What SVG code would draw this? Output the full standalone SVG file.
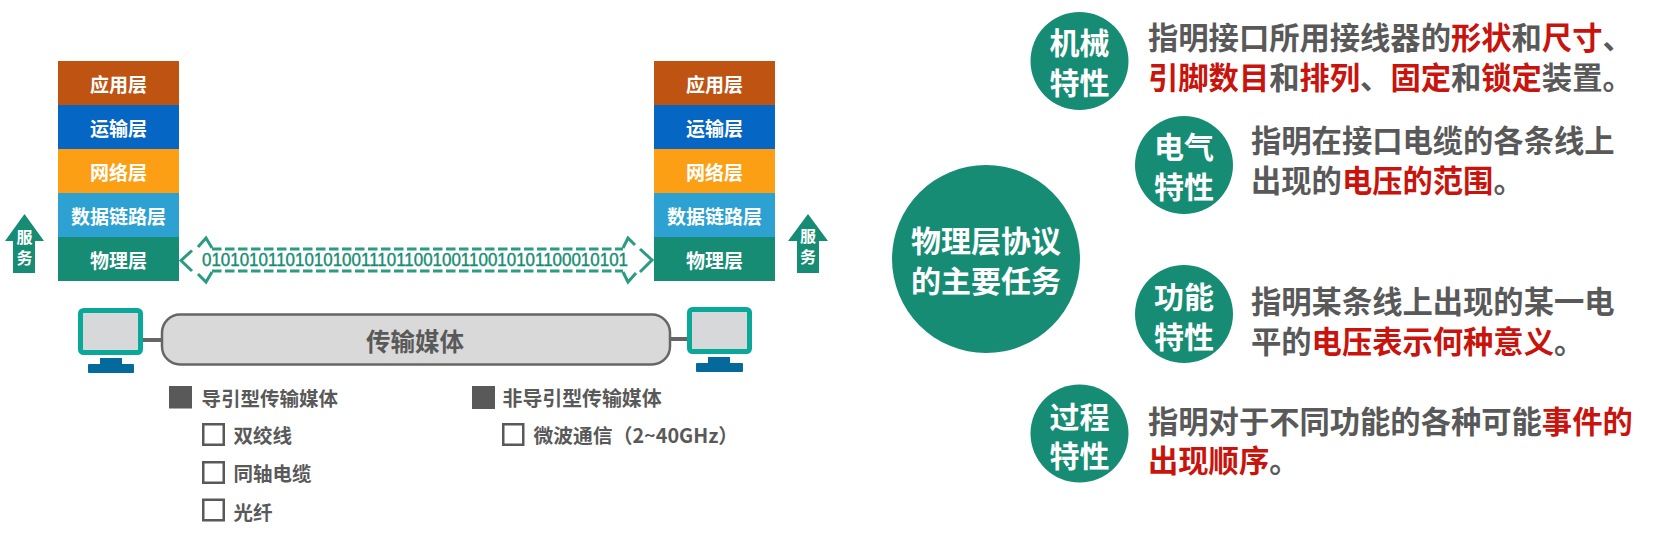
<svg xmlns="http://www.w3.org/2000/svg" width="1653" height="548" viewBox="0 0 1653 548">
<style>
text{font-family:"Noto Sans CJK SC","Liberation Sans",sans-serif}
.ly{font-size:19px;font-weight:700;fill:#fff;text-anchor:middle}
.sv{font-size:16px;font-weight:700;fill:#fff;text-anchor:middle}
.gr{fill:#178c74}
.cn{font-size:30px;font-weight:700;fill:#fff;text-anchor:middle}
.tx{font-size:30.300px;font-weight:700;fill:#595959}
.rd{fill:#c8140c}
.li{font-size:19.500px;font-weight:700;fill:#595959}
.box{fill:#fff;stroke:#595959;stroke-width:2.500}
.sq{fill:#595959}
.scr{fill:#d6d8da;stroke:#0aa899;stroke-width:5}
.std{fill:#04699b}
.wire{stroke:#666;stroke-width:4;fill:none}
.dash{fill:none;stroke:#2a9c82;stroke-width:3;stroke-dasharray:9.500 3.500}
.head{fill:none;stroke:#2a9c82;stroke-width:3}
</style>
<rect width="1653" height="548" fill="#fff"/>
<g id="stack-left">
<rect x="58" y="61" width="121" height="44" fill="#bf5312"/><text class="ly" x="118.500" y="91.500">应用层</text>
<rect x="58" y="105" width="121" height="44" fill="#0566c4"/><text class="ly" x="118.500" y="135.500">运输层</text>
<rect x="58" y="149" width="121" height="44" fill="#fd9f14"/><text class="ly" x="118.500" y="179.500">网络层</text>
<rect x="58" y="193" width="121" height="44" fill="#2ca1d2"/><text class="ly" x="118.500" y="223.500">数据链路层</text>
<rect x="58" y="237" width="121" height="44" fill="#178c74"/><text class="ly" x="118.500" y="267.500">物理层</text>
</g>
<g id="stack-right">
<rect x="654" y="61" width="121" height="44" fill="#bf5312"/><text class="ly" x="714.500" y="91.500">应用层</text>
<rect x="654" y="105" width="121" height="44" fill="#0566c4"/><text class="ly" x="714.500" y="135.500">运输层</text>
<rect x="654" y="149" width="121" height="44" fill="#fd9f14"/><text class="ly" x="714.500" y="179.500">网络层</text>
<rect x="654" y="193" width="121" height="44" fill="#2ca1d2"/><text class="ly" x="714.500" y="223.500">数据链路层</text>
<rect x="654" y="237" width="121" height="44" fill="#178c74"/><text class="ly" x="714.500" y="267.500">物理层</text>
</g>
<g id="service-left">
<path class="gr" d="M24.500 214L44 241H35V273H13V241H5Z"/>
<text class="sv" x="24.500" y="243">服</text><text class="sv" x="24.500" y="264">务</text>
</g>
<g id="service-right">
<path class="gr" d="M808 214L828 241H819V273H797V241H788Z"/>
<text class="sv" x="808" y="242">服</text><text class="sv" x="808" y="263">务</text>
</g>
<g id="connectors">
<path class="wire" d="M143 340H161M671 339H687"/>
<path class="dash" d="M212 249H623M212 271H623"/>
<path class="head" d="M192 250.500L181 260.500L192 271M198 247L206 238L212 248M198 274L206 282L212 272"/>
<path class="head" d="M640 249L652 260L640 272M623 248L628 238L635 245M623 272L628 282L636 273"/>
</g>
<text id="bits" x="202" y="266" font-size="17.500" fill="#178c74" stroke="#178c74" stroke-width=".4" style="font-family:'Liberation Sans',sans-serif" textLength="426" lengthAdjust="spacingAndGlyphs">0101010110101010011101100100110010101100010101</text>
<g id="pc-left">
<rect class="scr" x="80.500" y="310.500" width="60" height="42" rx="3"/>
<rect class="std" x="100" y="358" width="22" height="7"/><rect class="std" x="88" y="364" width="46" height="9" rx="1"/>
</g>
<g id="pc-right">
<rect class="scr" x="689.500" y="309.500" width="60" height="42" rx="3"/>
<rect class="std" x="708" y="357" width="22" height="7"/><rect class="std" x="696" y="363" width="47" height="9" rx="1"/>
</g>
<g id="medium">
<rect x="162" y="314.500" width="508" height="50" rx="18" fill="#d9d9d9" stroke="#666" stroke-width="2.500"/>
<text x="415" y="351" font-size="24.500" font-weight="700" fill="#595959" text-anchor="middle">传输媒体</text>
</g>
<g id="list-guided">
<rect class="sq" x="169" y="386" width="23" height="22.500"/><text class="li" x="201.500" y="406">导引型传输媒体</text>
<rect class="box" x="203.250" y="424.250" width="20.500" height="20.500"/><text class="li" x="233.500" y="443">双绞线</text>
<rect class="box" x="203.250" y="462.250" width="20.500" height="20.500"/><text class="li" x="233.500" y="481">同轴电缆</text>
<rect class="box" x="203.250" y="499.750" width="20.500" height="20.500"/><text class="li" x="233.500" y="519.500">光纤</text>
</g>
<g id="list-unguided">
<rect class="sq" x="472" y="386" width="23" height="23"/><text class="li" x="502.500" y="406" style="font-size:19.900px">非导引型传输媒体</text>
<rect class="box" x="503.250" y="424.250" width="20" height="20.500"/><text class="li" x="533.500" y="443" style="font-size:19.800px">微波通信（2~40GHz）</text>
</g>
<g id="main-task">
<circle class="gr" cx="986" cy="259" r="94"/>
<text class="cn" x="986" y="252">物理层协议</text><text class="cn" x="986" y="292">的主要任务</text>
</g>
<g id="mechanical">
<circle class="gr" cx="1079.500" cy="61" r="49"/>
<text class="cn" x="1079.500" y="54">机械</text><text class="cn" x="1079.500" y="93.500">特性</text>
<text class="tx" x="1148" y="49">指明接口所用接线器的<tspan class="rd">形状</tspan>和<tspan class="rd">尺寸</tspan>、</text>
<text class="tx" x="1148" y="89"><tspan class="rd">引脚数目</tspan>和<tspan class="rd">排列</tspan>、<tspan class="rd">固定</tspan>和<tspan class="rd">锁定</tspan>装置。</text>
</g>
<g id="electrical">
<circle class="gr" cx="1184" cy="165" r="49"/>
<text class="cn" x="1184" y="157.500">电气</text><text class="cn" x="1184" y="197.500">特性</text>
<text class="tx" x="1251" y="152">指明在接口电缆的各条线上</text>
<text class="tx" x="1251" y="192">出现的<tspan class="rd">电压的范围</tspan>。</text>
</g>
<g id="functional">
<circle class="gr" cx="1184" cy="314" r="49"/>
<text class="cn" x="1184" y="308">功能</text><text class="cn" x="1184" y="347.500">特性</text>
<text class="tx" x="1251" y="313">指明某条线上出现的某一电</text>
<text class="tx" x="1251" y="353">平的<tspan class="rd">电压表示何种意义</tspan>。</text>
</g>
<g id="procedural">
<circle class="gr" cx="1079.500" cy="433.500" r="49"/>
<text class="cn" x="1079.500" y="428">过程</text><text class="cn" x="1079.500" y="467">特性</text>
<text class="tx" x="1148" y="433">指明对于不同功能的各种可能<tspan class="rd">事件的</tspan></text>
<text class="tx" x="1148" y="472"><tspan class="rd">出现顺序</tspan>。</text>
</g>
</svg>
